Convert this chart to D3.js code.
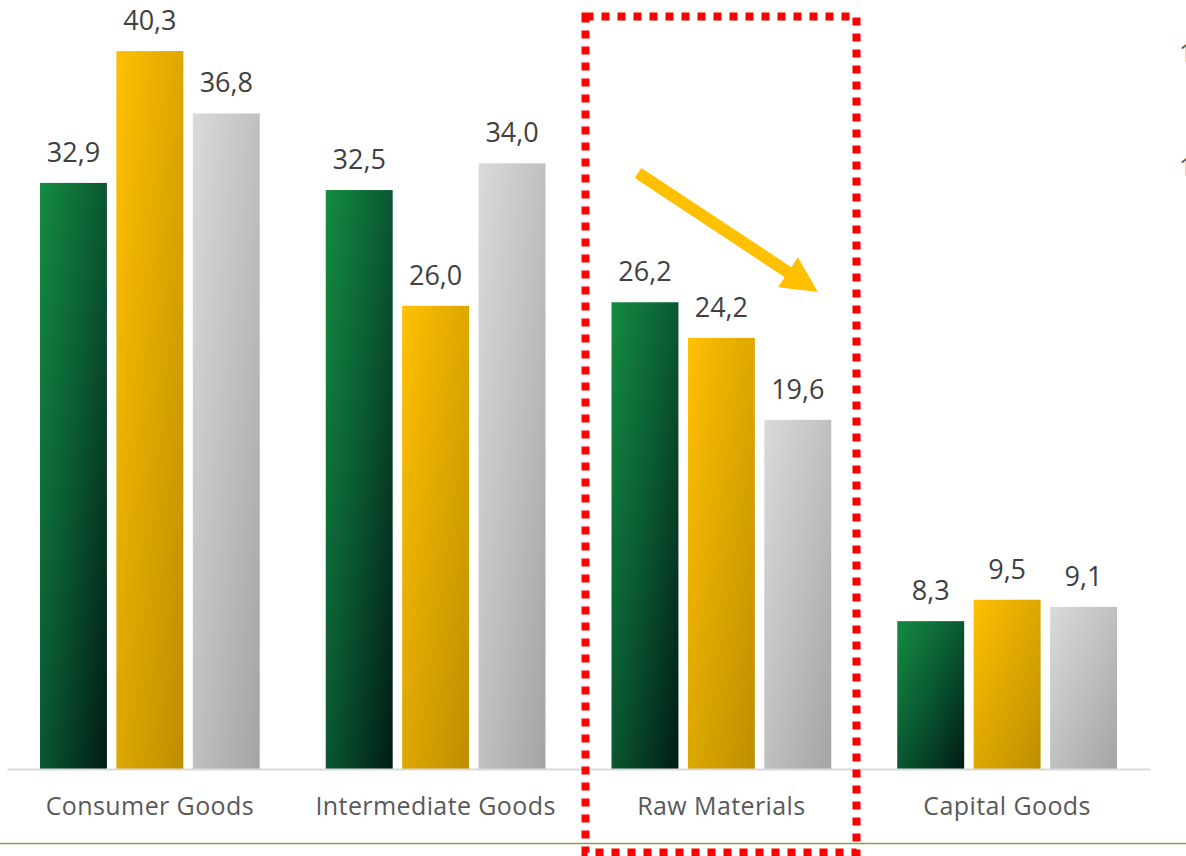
<!DOCTYPE html>
<html>
<head>
<meta charset="utf-8">
<script src="https://cdn.jsdelivr.net/npm/d3@7"></script>
<style>
  html, body { margin: 0; padding: 0; background: #ffffff; }
  svg { display: block; }
</style>
</head>
<body>
<svg id="chart" width="1186" height="856"></svg>
<script>
// Categories and the three series shown per category
const categories = ["Consumer Goods", "Intermediate Goods", "Raw Materials", "Capital Goods"];
const seriesKeys = ["first", "second", "third"];
const firstValues  = [32.9, 32.5, 26.2, 8.3];
const secondValues = [40.3, 26.0, 24.2, 9.5];
const thirdValues  = [36.8, 34.0, 19.6, 9.1];
// Partially visible labels of the right-hand axis
const rightTickLabels = ["1", "1"];
const rightTickValues = [40.3 + 0.0, 33.9];

const seriesValues = [firstValues, secondValues, thirdValues];
const data = categories.map((c, i) => ({
  category: c,
  values: seriesKeys.map((k, j) => ({ key: k, value: seriesValues[j][i] }))
}));

const svg = d3.select("#chart");
const W = 1186, H = 856;
const baseY = 769;

const x0 = d3.scaleBand().domain(categories).range([7, 1150]).padding(0);
const x1 = d3.scaleBand().domain(seriesKeys)
  .range([33, x0.bandwidth() - 33]).paddingInner(0.124).paddingOuter(0);
const y = d3.scaleLinear().domain([0, 43]).range([baseY, 3]);

// Diagonal gradients for each series
const defs = svg.append("defs");
const gradStops = {
  first:  ["#148c41", "#0a5731", "#001c15"],
  second: ["#ffc000", "#dea700", "#bd8e00"],
  third:  ["#dadada", "#c0c0c0", "#a4a4a4"]
};
seriesKeys.forEach(k => {
  const g = defs.append("linearGradient")
    .attr("id", "grad-" + k)
    .attr("x1", 0).attr("y1", 0).attr("x2", 1).attr("y2", 1);
  gradStops[k].forEach((c, i) => {
    g.append("stop").attr("offset", (i / 2 * 100) + "%").attr("stop-color", c);
  });
});

// Bars
const groups = svg.append("g").selectAll("g")
  .data(data).join("g")
  .attr("transform", d => `translate(${x0(d.category)},0)`);

groups.selectAll("rect")
  .data(d => d.values).join("rect")
  .attr("x", d => x1(d.key))
  .attr("y", d => y(d.value))
  .attr("width", x1.bandwidth())
  .attr("height", d => y(0) - y(d.value))
  .attr("fill", d => `url(#grad-${d.key})`);

// Value labels
const fmt = v => d3.format(".1f")(v).replace(".", ",");
groups.selectAll("text.value")
  .data(d => d.values).join("text")
  .attr("class", "value")
  .attr("x", d => x1(d.key) + x1.bandwidth() / 2)
  .attr("y", d => y(d.value) - 21)
  .attr("text-anchor", "middle")
  .attr("font-family", "'Open Sans', sans-serif")
  .attr("font-size", 27)
  .attr("fill", "#404040")
  .text(d => fmt(d.value));

// Category axis
const xAxis = svg.append("g")
  .attr("transform", `translate(0,${baseY})`)
  .call(d3.axisBottom(x0).tickSize(0).tickPadding(46));
xAxis.select(".domain").attr("stroke", "#d9d9d9").attr("stroke-width", 2);
xAxis.selectAll("text")
  .attr("font-family", "'Open Sans', sans-serif")
  .attr("font-size", 25)
  .attr("fill", "#595959")
  .attr("dy", 0)
  .attr("letter-spacing", 0.4);

// Right axis labels (cut by the page edge)
const yRight = d3.scaleLinear().domain([0, 43]).range([baseY, 3]);
svg.append("g").selectAll("text")
  .data(rightTickLabels).join("text")
  .attr("x", 1179)
  .attr("y", (d, i) => yRight(rightTickValues[i]) + 11)
  .attr("font-family", "'Open Sans', sans-serif")
  .attr("font-size", 25)
  .attr("fill", "#595959")
  .text(d => d);

// Horizontal separator line near the bottom
svg.append("line")
  .attr("x1", 0).attr("x2", W)
  .attr("y1", 843.5).attr("y2", 843.5)
  .attr("stroke", "#70ad47").attr("stroke-width", 1.5);

// Highlight box around the raw materials group
const hl = categories[2];
svg.append("rect")
  .attr("x", x0(hl) + 7).attr("y", 16.5)
  .attr("width", 271).attr("height", 836)
  .attr("fill", "none")
  .attr("stroke", "#ff0000")
  .attr("stroke-width", 8)
  .attr("stroke-dasharray", "8 8");

// Downward trend arrow over the raw materials bars
const ax1 = 638, ay1 = 173, ax2 = 818, ay2 = 292;
const ang = Math.atan2(ay2 - ay1, ax2 - ax1);
const headLen = 36, headHalf = 18, shaftHalf = 6;
const ux = Math.cos(ang), uy = Math.sin(ang), px = -uy, py = ux;
const bx = ax2 - ux * headLen, by = ay2 - uy * headLen;
const pts = [
  [ax1 + px * shaftHalf, ay1 + py * shaftHalf],
  [bx + px * shaftHalf, by + py * shaftHalf],
  [bx + px * headHalf, by + py * headHalf],
  [ax2, ay2],
  [bx - px * headHalf, by - py * headHalf],
  [bx - px * shaftHalf, by - py * shaftHalf],
  [ax1 - px * shaftHalf, ay1 - py * shaftHalf]
];
svg.append("path")
  .attr("d", d3.line()(pts) + "Z")
  .attr("fill", "#ffc000");
</script>
</body>
</html>
